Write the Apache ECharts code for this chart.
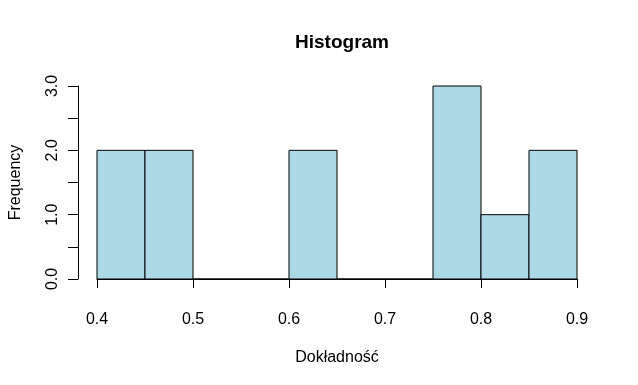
<!DOCTYPE html>
<html><head><meta charset="utf-8">
<script src="https://cdn.jsdelivr.net/npm/echarts@6/dist/echarts.min.js"></script>
<style>html,body{margin:0;padding:0;background:#fff}#c{width:638px;height:385px}</style>
</head><body><div id="c"></div>
<script>
const binStarts = [0.40, 0.45, 0.50, 0.55, 0.60, 0.65, 0.70, 0.75, 0.80, 0.85];
const binEnds   = [0.45, 0.50, 0.55, 0.60, 0.65, 0.70, 0.75, 0.80, 0.85, 0.90];
const counts    = [2, 2, 0, 0, 2, 0, 0, 3, 1, 2];
const xTicks = [0.4, 0.5, 0.6, 0.7, 0.8, 0.9];
const yTickLabels = ['0.0', '1.0', '2.0', '3.0'];

const data = binStarts.map((s, i) => [s, binEnds[i], counts[i]]);
const chart = echarts.init(document.getElementById('c'), null, {renderer: 'canvas'});
const font = '"Liberation Sans", Arial, sans-serif';
chart.setOption({
  animation: false,
  backgroundColor: '#fff',
  title: {text: 'Histogram', left: 337, top: 28, textAlign: 'center',
    textStyle: {fontFamily: font, fontWeight: 'bold', fontSize: 19, color: '#000'}},
  grid: {left: 97, right: 61, top: 86, bottom: 106, containLabel: false, outerBoundsMode: 'none'},
  xAxis: {
    type: 'value', min: 0.4, max: 0.9, interval: 0.1, offset: 8,
    name: 'Dokładność', nameLocation: 'middle', nameGap: 63,
    nameTextStyle: {fontFamily: font, fontSize: 16, color: '#000'},
    axisLine: {show: true, lineStyle: {color: '#000', width: 1}},
    axisTick: {show: true, length: 9, lineStyle: {color: '#000'}},
    axisLabel: {fontFamily: font, fontSize: 16, color: '#000', margin: 25,
      formatter: v => { const r = Math.round(v*10)/10; return xTicks.includes(r) ? r.toFixed(1) : ''; }},
    splitLine: {show: false}
  },
  yAxis: {
    type: 'value', min: 0, max: 3, interval: 0.5, offset: 19,
    name: 'Frequency', nameLocation: 'middle', nameGap: 54, nameRotate: 90,
    nameTextStyle: {fontFamily: font, fontSize: 16, color: '#000'},
    axisLine: {show: true, lineStyle: {color: '#000', width: 1}},
    axisTick: {show: true, length: 10, lineStyle: {color: '#000'}},
    axisLabel: {fontFamily: font, fontSize: 16, color: '#000', margin: 17, rotate: 90,
      formatter: v => Number.isInteger(v) ? yTickLabels[v] : ''},
    splitLine: {show: false}
  },
  series: [{
    type: 'custom',
    data: data,
    renderItem: function (params, api) {
      const p0 = api.coord([api.value(0), 0]);
      const p1 = api.coord([api.value(1), api.value(2)]);
      return {
        type: 'rect',
        shape: {x: p0[0], y: p1[1], width: p1[0] - p0[0], height: p0[1] - p1[1]},
        style: {fill: '#ADD8E6', stroke: '#000', lineWidth: 1}
      };
    },
    encode: {x: [0, 1], y: 2}
  }]
});
</script></body></html>
